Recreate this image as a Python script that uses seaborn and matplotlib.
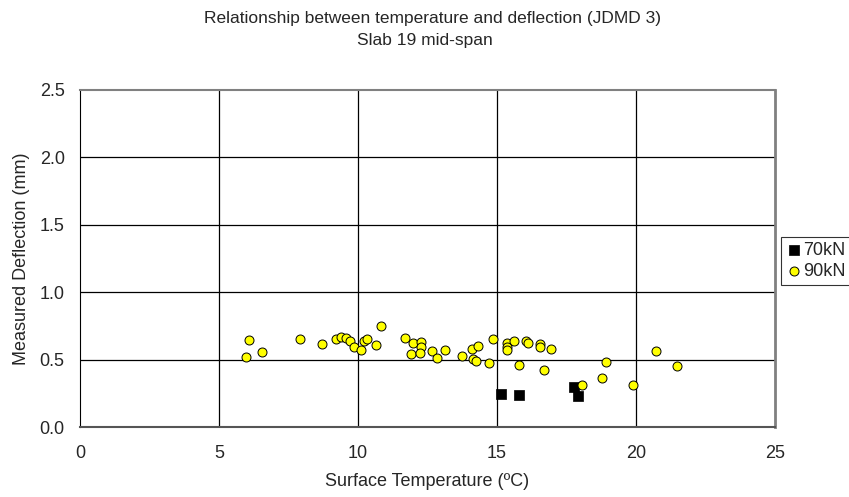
import numpy as np
import pandas as pd
import seaborn as sns
import matplotlib.pyplot as plt

# 70kN readings (surface temperature, deflection)
temp_70 = [15.15, 15.80, 17.76, 17.90]
defl_70 = [0.245, 0.237, 0.299, 0.232]

# 90kN readings
temp_90 = [5.96, 6.09, 6.53, 7.90, 8.69, 9.21, 9.40, 9.57, 9.73, 9.87,
           10.11, 10.20, 10.32, 10.65, 10.81, 11.70, 11.98, 12.28, 12.28, 11.92,
           12.22, 12.67, 12.84, 13.13, 13.75, 14.09, 14.30, 14.14, 14.26, 14.72,
           14.86, 15.36, 15.35, 15.37, 15.61, 16.05, 16.13, 16.56, 16.56, 16.95,
           15.79, 16.69, 18.06, 18.93, 18.76, 19.91, 20.71, 21.47]
defl_90 = [0.52, 0.643, 0.556, 0.65, 0.618, 0.65, 0.67, 0.658, 0.638, 0.596,
           0.569, 0.638, 0.653, 0.611, 0.747, 0.658, 0.623, 0.628, 0.596, 0.539,
           0.547, 0.561, 0.514, 0.569, 0.529, 0.581, 0.603, 0.507, 0.492, 0.477,
           0.651, 0.626, 0.596, 0.571, 0.640, 0.640, 0.623, 0.613, 0.591, 0.581,
           0.462, 0.42, 0.312, 0.482, 0.361, 0.312, 0.561, 0.455]

x_ticks = [0, 5, 10, 15, 20, 25]
y_ticks = [0.0, 0.5, 1.0, 1.5, 2.0, 2.5]

df70 = pd.DataFrame({'temp': temp_70, 'defl': defl_70})
df90 = pd.DataFrame({'temp': temp_90, 'defl': defl_90})

sns.set_style('white')
plt.rcParams['font.family'] = ['Liberation Sans', 'DejaVu Sans']
fs = 13

fig = plt.figure(figsize=(8.49, 4.97), dpi=100)
ax = fig.add_axes([80 / 849, 1 - 427 / 497, 695 / 849, 337 / 497])

# gridlines
for xv in x_ticks[1:-1]:
    ax.axvline(xv, color='black', lw=0.9, zorder=1)
for yv in y_ticks[1:-1]:
    ax.axhline(yv, color='black', lw=0.9, zorder=1)

sns.scatterplot(data=df70, x='temp', y='defl', ax=ax, marker='s', s=55,
                color='black', edgecolor='black', linewidth=0.5, label='70kN', zorder=3)
sns.scatterplot(data=df90, x='temp', y='defl', ax=ax, marker='o', s=42,
                color='#ffff00', edgecolor='black', linewidth=0.7, label='90kN', zorder=3)

ax.set_xlim(0, 25)
ax.set_ylim(0, 2.5)
ax.set_xticks(x_ticks)
ax.set_xticklabels([str(v) for v in x_ticks])
ax.set_yticks(y_ticks)
ax.set_yticklabels(['%.1f' % v for v in y_ticks])
ax.tick_params(direction='out', length=4, width=0.8, color='black', labelsize=fs)
ax.tick_params(axis='x', pad=9)
ax.tick_params(axis='y', pad=7)

ax.set_xlabel('Surface Temperature (ºC)', fontsize=fs, labelpad=8)
ax.set_ylabel('Measured Deflection (mm)', fontsize=fs, labelpad=7)

ax.spines['left'].set_color('black')
ax.spines['bottom'].set_color('#555555')
ax.spines['bottom'].set_linewidth(1.5)
ax.spines['top'].set_color('#808080')
ax.spines['top'].set_linewidth(1.5)
ax.spines['right'].set_color('#808080')
ax.spines['right'].set_linewidth(2)

fig.text(433 / 849, 1 - 18 / 497, 'Relationship between temperature and deflection (JDMD 3)',
         ha='center', va='center', fontsize=12.5)
fig.text(0.5, 1 - 40 / 497, 'Slab 19 mid-span', ha='center', va='center', fontsize=12.5)

ax.legend_.remove()
h, l = ax.get_legend_handles_labels()
leg = fig.legend(h, l, loc='upper left', bbox_to_anchor=(781 / 849, 1 - 237 / 497),
                 frameon=True, fancybox=False, fontsize=fs, handletextpad=0.1,
                 handlelength=0.9, borderpad=0.25, labelspacing=0.25, borderaxespad=0)
leg.get_frame().set_edgecolor('black')
leg.get_frame().set_linewidth(0.8)

fig.savefig('out.png', dpi=100)
